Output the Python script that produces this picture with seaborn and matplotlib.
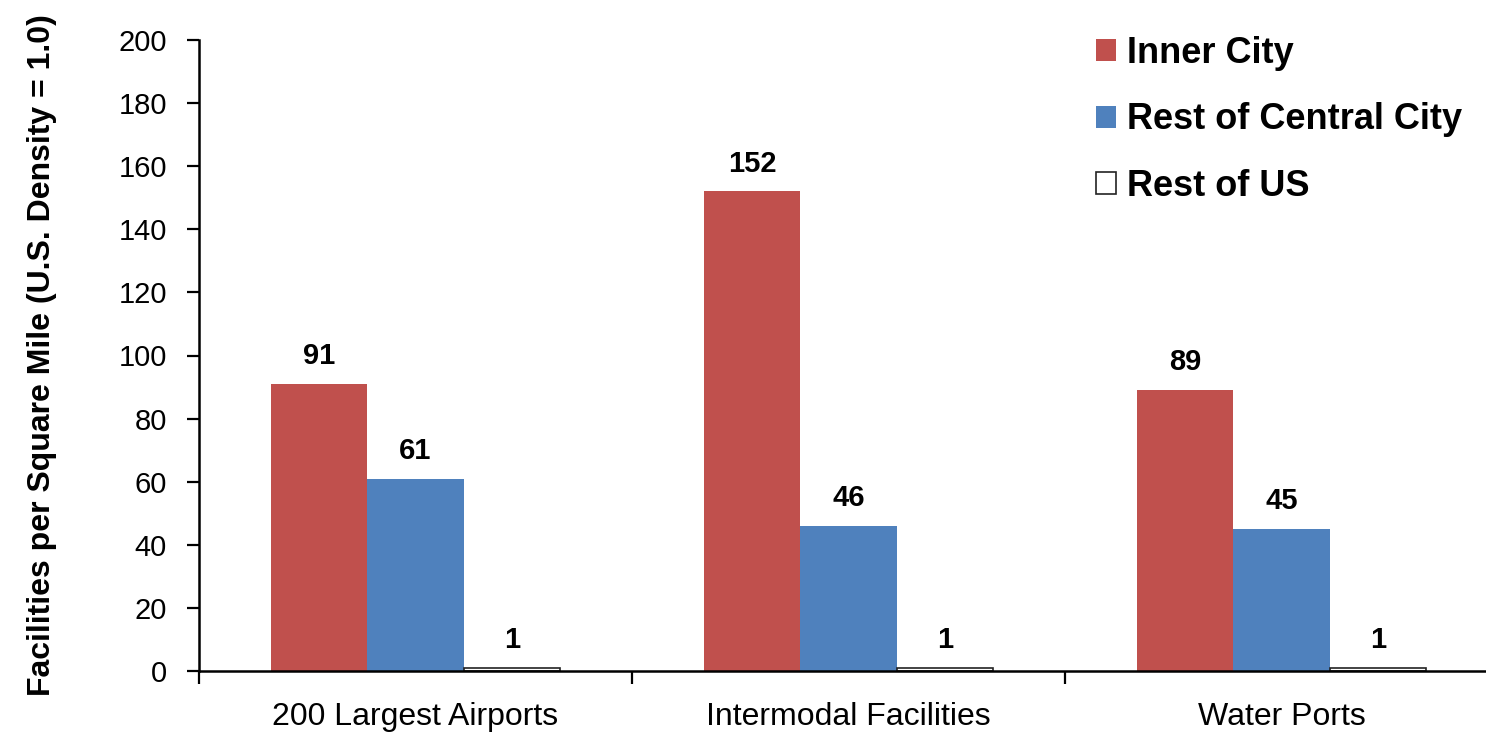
import matplotlib
matplotlib.use("Agg")
import matplotlib.pyplot as plt
import seaborn as sns
import pandas as pd

# Facility density by area type, relative to the U.S. average
categories = ["200 Largest Airports", "Intermodal Facilities", "Water Ports"]
series = ["Inner City", "Rest of Central City", "Rest of US"]
inner_city = [91, 152, 89]
rest_central_city = [61, 46, 45]
rest_of_us = [1, 1, 1]
y_ticks = [0, 20, 40, 60, 80, 100, 120, 140, 160, 180, 200]

colors = ["#C0504D", "#4F81BD", "#FFFFFF"]

df = pd.DataFrame({
    "category": categories * 3,
    "series": [series[0]] * 3 + [series[1]] * 3 + [series[2]] * 3,
    "value": inner_city + rest_central_city + rest_of_us,
})

sns.set_style("white")
plt.rcParams["font.family"] = ["Liberation Sans", "DejaVu Sans"]
plt.rcParams["text.color"] = "black"
plt.rcParams["axes.labelcolor"] = "black"
plt.rcParams["xtick.color"] = "black"
plt.rcParams["ytick.color"] = "black"

fig = plt.figure(figsize=(14.86, 7.36), dpi=100)
ax = fig.add_axes([199 / 1486, 1 - 671 / 736, 1299 / 1486, 631 / 736])

sns.barplot(data=df, x="category", y="value", hue="series",
            order=categories, hue_order=series, palette=colors,
            width=2 / 3, gap=0, linewidth=0, saturation=1, ax=ax)

# outline the near-zero white bars
for bar in ax.containers[2]:
    bar.set_edgecolor("#222222")
    bar.set_linewidth(1.2)

# value labels above each bar
for cont in ax.containers:
    for bar in cont:
        h = bar.get_height()
        ax.annotate(f"{h:.0f}", (bar.get_x() + bar.get_width() / 2, h),
                    xytext=(0, 10), textcoords="offset points",
                    ha="center", va="bottom", fontsize=21, fontweight="bold",
                    color="black")

ax.set_ylim(0, 200)
ax.set_yticks(y_ticks)
ax.set_xlim(-0.5, 2.5)
ax.set_xticks([-0.5, 0.5, 1.5, 2.5])
ax.set_xticklabels([])
ax.set_xticks([0, 1, 2], minor=True)
ax.set_xticklabels(categories, minor=True, fontsize=23)
ax.tick_params(axis="x", which="minor", bottom=True, length=0, pad=22)
ax.tick_params(axis="x", which="major", bottom=True, direction="out",
               length=9, width=1.6, color="black")
ax.tick_params(axis="y", left=True, direction="out", length=9, width=1.6,
               color="black", labelsize=21, pad=14)
ax.set_xlabel("")
ax.set_ylabel("Facilities per Square Mile (U.S. Density = 1.0)",
              fontsize=23, fontweight="bold", labelpad=44, color="black")

sns.despine(ax=ax)
for side in ("left", "bottom"):
    ax.spines[side].set_color("black")
    ax.spines[side].set_linewidth(1.8)

leg = ax.legend(loc="upper left", bbox_to_anchor=(1096 / 1486, 1 - 36 / 736),
                bbox_transform=fig.transFigure, frameon=False,
                prop={"size": 26, "weight": "bold"}, handlelength=0.55,
                handleheight=0.55, handletextpad=0.3, labelspacing=0.87,
                borderaxespad=0, borderpad=0)
for h in leg.legend_handles:
    h.set_linewidth(0)
leg.legend_handles[2].set_edgecolor("#222222")
leg.legend_handles[2].set_linewidth(1.2)

fig.savefig("out.png", dpi=100)
